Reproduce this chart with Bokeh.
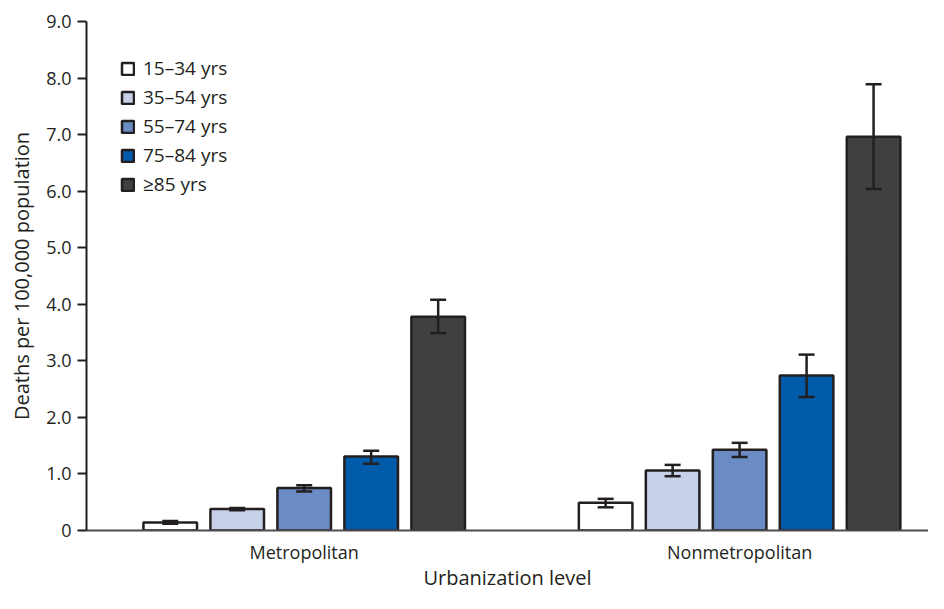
from bokeh.plotting import figure
from bokeh.models import Range1d, FixedTicker, ColumnDataSource, Whisker, TeeHead, Legend, LegendItem
from bokeh.embed import file_html
from bokeh.resources import INLINE

groups = ["Metropolitan", "Nonmetropolitan"]
ages = ["15\u201334 yrs", "35\u201354 yrs", "55\u201374 yrs", "75\u201384 yrs", "\u226585 yrs"]
colors = ["#ffffff", "#c6d0e8", "#6b8bc5", "#005bab", "#404040"]

rates = {
    "Metropolitan":    [0.14, 0.38, 0.75, 1.31, 3.78],
    "Nonmetropolitan": [0.49, 1.06, 1.43, 2.74, 6.96],
}
lower = {
    "Metropolitan":    [0.12, 0.36, 0.69, 1.18, 3.49],
    "Nonmetropolitan": [0.41, 0.96, 1.30, 2.36, 6.04],
}
upper = {
    "Metropolitan":    [0.17, 0.40, 0.80, 1.41, 4.08],
    "Nonmetropolitan": [0.56, 1.16, 1.55, 3.11, 7.89],
}
y_ticks = [0, 1, 2, 3, 4, 5, 6, 7, 8, 9]

FONT = "Open Sans"
INK = "#231f20"

# layout constants (units of one bar step)
first_offset = 1.25
group_step = 6.5
bar_w = 0.8

p = figure(width=928, height=593, output_backend="svg", toolbar_location=None,
           x_range=Range1d(0, 12.57), y_range=Range1d(0, 9),
           min_border_left=86, min_border_right=0, min_border_top=21, min_border_bottom=10)
p.outline_line_color = None
p.xgrid.grid_line_color = None
p.ygrid.grid_line_color = None

renderers = []
for i, age in enumerate(ages):
    xs = [first_offset + gi * group_step + i for gi in range(len(groups))]
    tops = [rates[g][i] for g in groups]
    src = ColumnDataSource(dict(x=xs, top=tops))
    r = p.vbar(x="x", top="top", width=bar_w, bottom=0, source=src,
               fill_color=colors[i], line_color=INK, line_width=2.5)
    renderers.append(r)
for i, age in enumerate(ages):
    xs = [first_offset + gi * group_step + i for gi in range(len(groups))]
    src = ColumnDataSource(dict(x=xs,
                                lo=[lower[g][i] for g in groups],
                                hi=[upper[g][i] for g in groups]))
    w = Whisker(base="x", lower="lo", upper="hi", source=src, level="overlay",
                line_color=INK, line_width=2.5,
                upper_head=TeeHead(size=16, line_color=INK, line_width=2.5),
                lower_head=TeeHead(size=16, line_color=INK, line_width=2.5))
    p.add_layout(w)

legend = Legend(items=[LegendItem(label=a, renderers=[r]) for a, r in zip(ages, renderers)],
                location="top_left", margin=34, padding=0, spacing=3,
                glyph_width=15, glyph_height=15, label_height=15,
                label_text_font=FONT, label_text_font_size="19px", label_text_color=INK,
                label_standoff=8, border_line_color=None, background_fill_alpha=0)
p.add_layout(legend)

# y axis
ya = p.yaxis[0]
ya.ticker = FixedTicker(ticks=y_ticks)
ya.major_label_overrides = {t: ("0" if t == 0 else f"{t:.1f}") for t in y_ticks}
ya.axis_label = "Deaths per 100,000 population"
ya.axis_label_text_font = FONT
ya.axis_label_text_font_size = "20px"
ya.axis_label_text_font_style = "normal"
ya.axis_label_text_color = INK
ya.axis_label_standoff = 8
ya.major_label_text_font = FONT
ya.major_label_text_font_size = "18px"
ya.major_label_text_color = INK
ya.major_label_standoff = 6
ya.axis_line_color = INK
ya.axis_line_width = 2
ya.major_tick_line_color = INK
ya.major_tick_line_width = 2
ya.major_tick_out = 9
ya.major_tick_in = 0
ya.minor_tick_line_color = None

# x axis
xa = p.xaxis[0]
centers = [first_offset + gi * group_step + (len(ages) - 1) / 2 for gi in range(len(groups))]
xa.ticker = FixedTicker(ticks=centers)
xa.major_label_overrides = {c: g for c, g in zip(centers, groups)}
xa.major_label_text_font = FONT
xa.major_label_text_font_size = "18px"
xa.major_label_text_color = INK
xa.major_label_standoff = 3
xa.axis_label = "Urbanization level"
xa.axis_label_text_font = FONT
xa.axis_label_text_font_size = "20px"
xa.axis_label_text_font_style = "normal"
xa.axis_label_text_color = INK
xa.axis_label_standoff = -3
xa.axis_line_color = "#4d4d4f"
xa.axis_line_width = 2
xa.major_tick_line_color = None
xa.minor_tick_line_color = None

open("out.html", "w").write(file_html(p, INLINE))
